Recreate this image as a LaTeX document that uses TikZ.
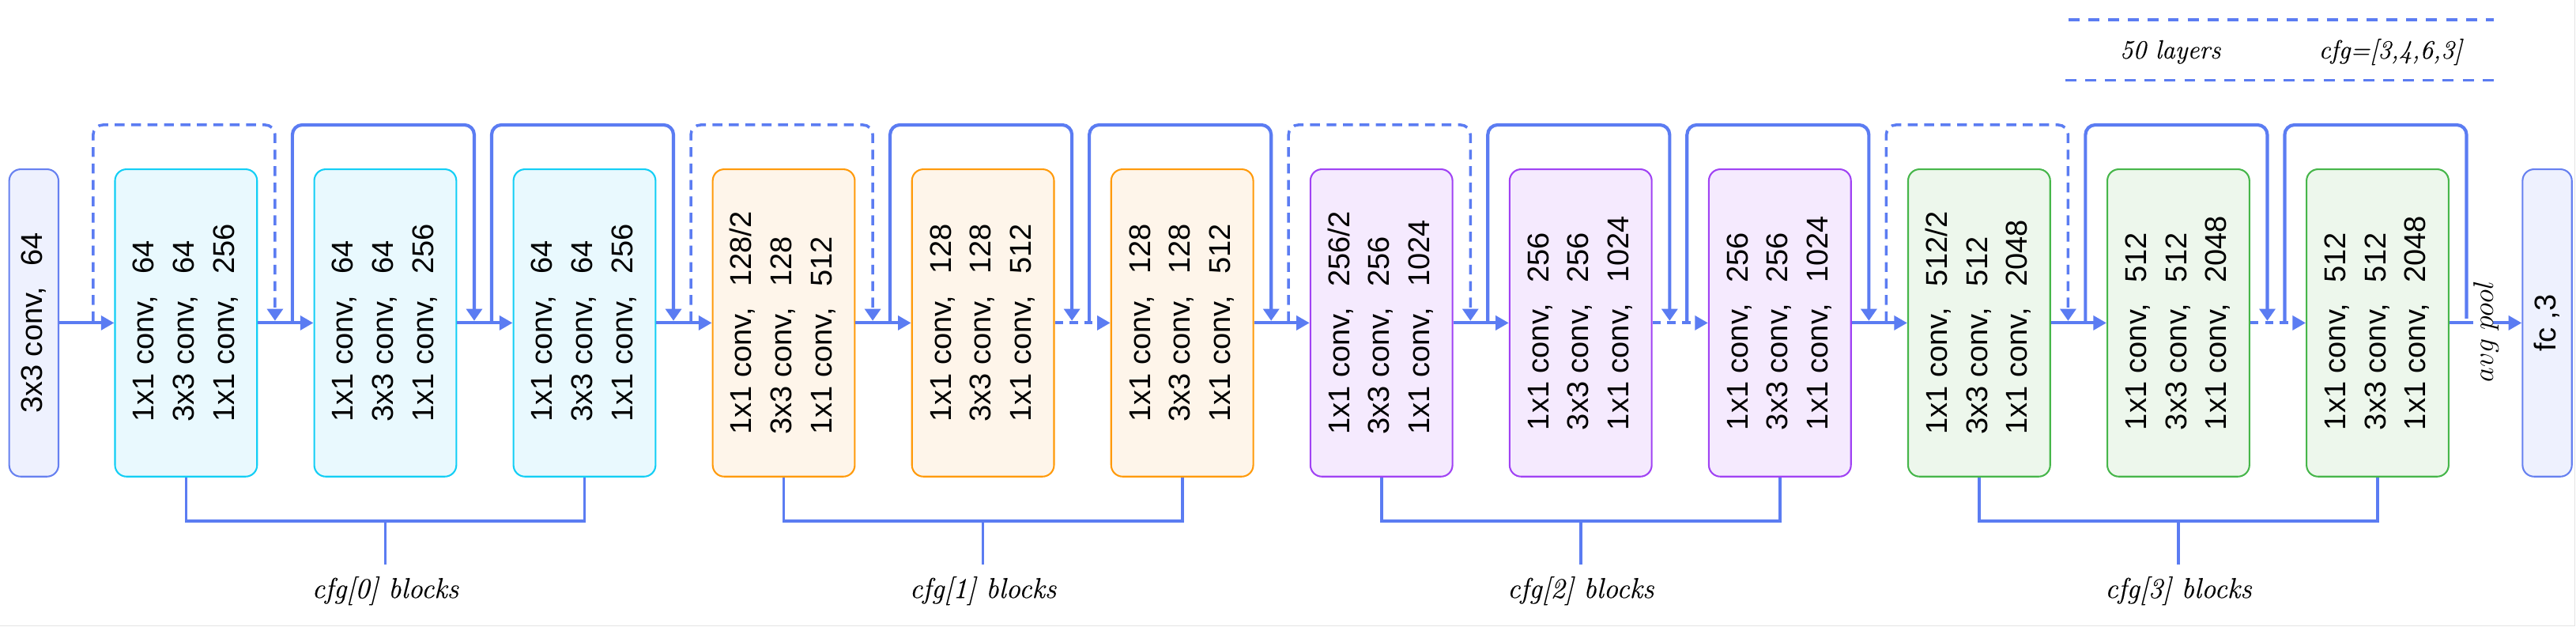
\documentclass[tikz,border=0pt]{standalone}
\usepackage{fontspec}
\newfontfamily\arialf{Liberation Sans}
\newfontfamily\labelfont[FakeBold=0.25]{Latin Modern Roman}
\usetikzlibrary{arrows.meta,calc}
\definecolor{lineblue}{RGB}{91,124,242}
\definecolor{stemfill}{RGB}{238,241,254}
\definecolor{stemdraw}{RGB}{102,128,240}
\definecolor{cyandraw}{RGB}{18,206,245}
\definecolor{cyanfill}{RGB}{233,249,254}
\definecolor{orgdraw}{RGB}{255,154,10}
\definecolor{orgfill}{RGB}{254,245,234}
\definecolor{purdraw}{RGB}{160,66,244}
\definecolor{purfill}{RGB}{245,234,254}
\definecolor{grndraw}{RGB}{70,182,74}
\definecolor{grnfill}{RGB}{237,247,236}
\definecolor{framegray}{RGB}{228,228,228}
\newcommand\blktext[3]{\rotatebox{90}{\begin{tabular}{@{}l@{}}1x1 conv,\hspace{0.7em}#1\\3x3 conv,\hspace{0.7em}#2\\1x1 conv,\hspace{0.7em}#3\end{tabular}}}
\tikzset{
  blockbox/.style={rectangle, rounded corners=7pt, minimum width=86.5pt, minimum height=187pt, line width=1pt, inner sep=0pt, font=\arialf\fontsize{18.3}{24.4}\selectfont},
  cyanb/.style={blockbox, draw=cyandraw, fill=cyanfill},
  orgb/.style={blockbox, draw=orgdraw, fill=orgfill},
  purb/.style={blockbox, draw=purdraw, fill=purfill},
  grnb/.style={blockbox, draw=grndraw, fill=grnfill},
  endbox/.style={blockbox, minimum width=30pt, draw=stemdraw, fill=stemfill},
  mainarrow/.style={draw=lineblue, line width=2pt, -{Triangle[length=8pt,width=8.5pt]}},
  mdash/.style={dash pattern=on 5pt off 4pt},
  skipsolid/.style={draw=lineblue, line width=2pt, rounded corners=6pt, -{Triangle[length=7.2pt,width=9.5pt]}},
  skipdashed/.style={skipsolid, line width=1.7pt, dash pattern=on 6pt off 4pt},
  bracket/.style={draw=lineblue, line width=1.8pt},
  lbl/.style={font=\labelfont\fontsize{17.5}{20}\selectfont\itshape, inner sep=0pt, anchor=base},
  legtext/.style={font=\labelfont\fontsize{16}{19}\selectfont\itshape, inner sep=0pt, anchor=base},
  legline/.style={draw=lineblue, line width=1.6pt, dash pattern=on 6.7pt off 5.4pt},
}
\begin{document}
\begin{tikzpicture}[x=1pt,y=-1pt]
\useasboundingbox (0,0) rectangle (1568,381.5);
\fill[white] (0,0) rectangle (1568,381.5);
\draw[framegray, line width=0.6pt] (1567.2,0) -- (1567.2,380.9) -- (0,380.9);

% legend
\draw[legline] (1259,12) -- (1518,12);
\draw[legline] (1257,49) -- (1518,49);
\node[legtext] (leg1) at (1321,35.6) {50 layers};
\node[legtext] (leg2) at (1455,35.6) {cfg=[3,4,6,3]};

% stem and head
\node[endbox] (stem) at (20.6,196.5) {\rotatebox{90}{3x3 conv,\hspace{0.7em}64}};
\node[endbox] (fc) at (1550.45,196.5) {\rotatebox{90}{fc ,3}};

% blocks
\node[cyanb] (b1) at (113.25,196.5) {\blktext{64}{64}{256}};
\node[cyanb] (b2) at (234.52,196.5) {\blktext{64}{64}{256}};
\node[cyanb] (b3) at (355.79,196.5) {\blktext{64}{64}{256}};
\node[orgb] (b4) at (477.06,196.5) {\blktext{128/2}{128}{512}};
\node[orgb] (b5) at (598.33,196.5) {\blktext{128}{128}{512}};
\node[orgb] (b6) at (719.60,196.5) {\blktext{128}{128}{512}};
\node[purb] (b7) at (840.87,196.5) {\blktext{256/2}{256}{1024}};
\node[purb] (b8) at (962.14,196.5) {\blktext{256}{256}{1024}};
\node[purb] (b9) at (1083.41,196.5) {\blktext{256}{256}{1024}};
\node[grnb] (b10) at (1204.68,196.5) {\blktext{512/2}{512}{2048}};
\node[grnb] (b11) at (1325.95,196.5) {\blktext{512}{512}{2048}};
\node[grnb] (b12) at (1447.22,196.5) {\blktext{512}{512}{2048}};

% main arrows
\draw[mainarrow] (stem.east) -- (b1.west);
\draw[mainarrow] (b1.east) -- (b2.west);
\draw[mainarrow] (b2.east) -- (b3.west);
\draw[mainarrow] (b3.east) -- (b4.west);
\draw[mainarrow] (b4.east) -- (b5.west);
\draw[mainarrow,mdash] (b5.east) -- (b6.west);
\draw[mainarrow] (b6.east) -- (b7.west);
\draw[mainarrow] (b7.east) -- (b8.west);
\draw[mainarrow,mdash] (b8.east) -- (b9.west);
\draw[mainarrow] (b9.east) -- (b10.west);
\draw[mainarrow] (b10.east) -- (b11.west);
\draw[mainarrow,mdash] (b11.east) -- (b12.west);
\draw[mainarrow] (b12.east) -- (fc.west);

% skip connections
\draw[skipdashed] ($(b1.west)+(-12.8,-1)$) -- ($(b1.west)+(-12.8,-120.5)$) -- ($(b1.east)+(10.4,-120.5)$) -- ($(b1.east)+(10.4,-1.3)$);
\draw[skipsolid] ($(b2.west)+(-12.8,-1)$) -- ($(b2.west)+(-12.8,-120.5)$) -- ($(b2.east)+(10.4,-120.5)$) -- ($(b2.east)+(10.4,-1.3)$);
\draw[skipsolid] ($(b3.west)+(-12.8,-1)$) -- ($(b3.west)+(-12.8,-120.5)$) -- ($(b3.east)+(10.4,-120.5)$) -- ($(b3.east)+(10.4,-1.3)$);
\draw[skipdashed] ($(b4.west)+(-12.8,-1)$) -- ($(b4.west)+(-12.8,-120.5)$) -- ($(b4.east)+(10.4,-120.5)$) -- ($(b4.east)+(10.4,-1.3)$);
\draw[skipsolid] ($(b5.west)+(-12.8,-1)$) -- ($(b5.west)+(-12.8,-120.5)$) -- ($(b5.east)+(10.4,-120.5)$) -- ($(b5.east)+(10.4,-1.3)$);
\draw[skipsolid] ($(b6.west)+(-12.8,-1)$) -- ($(b6.west)+(-12.8,-120.5)$) -- ($(b6.east)+(10.4,-120.5)$) -- ($(b6.east)+(10.4,-1.3)$);
\draw[skipdashed] ($(b7.west)+(-12.8,-1)$) -- ($(b7.west)+(-12.8,-120.5)$) -- ($(b7.east)+(10.4,-120.5)$) -- ($(b7.east)+(10.4,-1.3)$);
\draw[skipsolid] ($(b8.west)+(-12.8,-1)$) -- ($(b8.west)+(-12.8,-120.5)$) -- ($(b8.east)+(10.4,-120.5)$) -- ($(b8.east)+(10.4,-1.3)$);
\draw[skipsolid] ($(b9.west)+(-12.8,-1)$) -- ($(b9.west)+(-12.8,-120.5)$) -- ($(b9.east)+(10.4,-120.5)$) -- ($(b9.east)+(10.4,-1.3)$);
\draw[skipdashed] ($(b10.west)+(-12.8,-1)$) -- ($(b10.west)+(-12.8,-120.5)$) -- ($(b10.east)+(10.4,-120.5)$) -- ($(b10.east)+(10.4,-1.3)$);
\draw[skipsolid] ($(b11.west)+(-12.8,-1)$) -- ($(b11.west)+(-12.8,-120.5)$) -- ($(b11.east)+(10.4,-120.5)$) -- ($(b11.east)+(10.4,-1.3)$);
\draw[skipsolid,-] ($(b12.west)+(-12.8,-1)$) -- ($(b12.west)+(-12.8,-120.5)$) -- ($(b12.east)+(10.4,-120.5)$) -- ($(b12.east)+(10.4,-2.7)$);

% avg pool
\node[rotate=90, anchor=base, fill=white, inner sep=0pt, text depth=0pt, font=\fontsize{17.28}{20}\selectfont] (avg) at (1517.5,201.7) {$avg\ pool$};

% brackets
\draw[bracket] (b1.south) -- ++(0,26.7) -| (b3.south);
\draw[bracket] ($(b1.south)!0.5!(b3.south)+(0,26.7)$) -- ++(0,26.3);
\node[lbl] (lab0) at ($(b1.south)!0.5!(b3.south)+(0,73.4)$) {cfg[0] blocks};
\draw[bracket] (b4.south) -- ++(0,26.7) -| (b6.south);
\draw[bracket] ($(b4.south)!0.5!(b6.south)+(0,26.7)$) -- ++(0,26.3);
\node[lbl] (lab1) at ($(b4.south)!0.5!(b6.south)+(0,73.4)$) {cfg[1] blocks};
\draw[bracket] (b7.south) -- ++(0,26.7) -| (b9.south);
\draw[bracket] ($(b7.south)!0.5!(b9.south)+(0,26.7)$) -- ++(0,26.3);
\node[lbl] (lab2) at ($(b7.south)!0.5!(b9.south)+(0,73.4)$) {cfg[2] blocks};
\draw[bracket] (b10.south) -- ++(0,26.7) -| (b12.south);
\draw[bracket] ($(b10.south)!0.5!(b12.south)+(0,26.7)$) -- ++(0,26.3);
\node[lbl] (lab3) at ($(b10.south)!0.5!(b12.south)+(0,73.4)$) {cfg[3] blocks};
\end{tikzpicture}
\end{document}
